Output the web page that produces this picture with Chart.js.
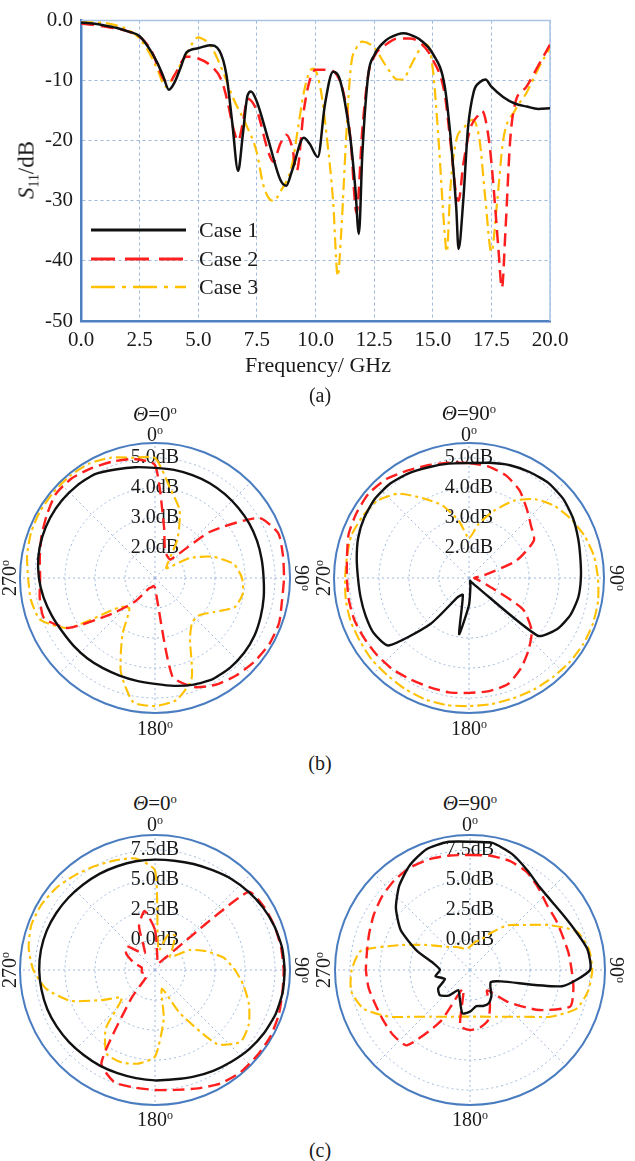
<!DOCTYPE html>
<html><head><meta charset="utf-8">
<script src="https://cdn.jsdelivr.net/npm/chart.js@4.4.1/dist/chart.umd.min.js"></script>
<style>
html,body{margin:0;padding:0;background:#fff;width:635px;height:1161px;overflow:hidden}
#page{position:relative;width:635px;height:1161px;overflow:hidden;background:#fff}
canvas{position:absolute}
.t{position:absolute;font-family:"Liberation Serif","Times New Roman",serif;color:#1a1a1a;white-space:nowrap;line-height:1;transform:translate(-50%,-50%)}
.deg{font-size:0.6em;position:relative;top:-0.55em}
.rl{transform:translate(-50%,-50%) rotate(-90deg)}
.rr{transform:translate(-50%,-50%) rotate(90deg)}
</style></head>
<body><div id="page">
<canvas id="s11" width="635" height="385" style="left:0;top:0"></canvas>
<canvas id="p1" width="290" height="290" style="left:10px;top:433px"></canvas>
<canvas id="p2" width="290" height="290" style="left:324px;top:433px"></canvas>
<canvas id="p3" width="290" height="290" style="left:10px;top:825px"></canvas>
<canvas id="p4" width="290" height="290" style="left:325px;top:825px"></canvas>

<div class="t rl" style="left:26px;top:170px;font-size:23px"><i>S</i><span style="font-size:0.6em;position:relative;top:0.35em">11</span>/dB</div>
<div class="t" style="left:318px;top:365px;font-size:22px">Frequency/ GHz</div>
<div class="t" style="left:320px;top:395px;font-size:20px">(a)</div>
<div class="t" style="left:320px;top:763px;font-size:20px">(b)</div>
<div class="t" style="left:320px;top:1150px;font-size:20px">(c)</div>

<div class="t" style="left:155px;top:414px;font-size:21px"><i>&Theta;</i>=0<span class="deg">o</span></div>
<div class="t" style="left:155px;top:434px;font-size:20px">0<span class="deg">o</span></div>
<div class="t" style="left:155px;top:728px;font-size:20px">180<span class="deg">o</span></div>
<div class="t rl" style="left:9px;top:578px;font-size:20px">270<span class="deg">o</span></div>
<div class="t rr" style="left:302px;top:578px;font-size:20px">90<span class="deg">o</span></div>

<div class="t" style="left:469px;top:413px;font-size:21px"><i>&Theta;</i>=90<span class="deg">o</span></div>
<div class="t" style="left:469px;top:434px;font-size:20px">0<span class="deg">o</span></div>
<div class="t" style="left:469px;top:728px;font-size:20px">180<span class="deg">o</span></div>
<div class="t rl" style="left:323px;top:578px;font-size:20px">270<span class="deg">o</span></div>
<div class="t rr" style="left:617px;top:578px;font-size:20px">90<span class="deg">o</span></div>

<div class="t" style="left:155px;top:803px;font-size:21px"><i>&Theta;</i>=0<span class="deg">o</span></div>
<div class="t" style="left:155px;top:824px;font-size:20px">0<span class="deg">o</span></div>
<div class="t" style="left:155px;top:1119px;font-size:20px">180<span class="deg">o</span></div>
<div class="t rl" style="left:9px;top:970px;font-size:20px">270<span class="deg">o</span></div>
<div class="t rr" style="left:302px;top:970px;font-size:20px">90<span class="deg">o</span></div>

<div class="t" style="left:470px;top:803px;font-size:21px"><i>&Theta;</i>=90<span class="deg">o</span></div>
<div class="t" style="left:470px;top:824px;font-size:20px">0<span class="deg">o</span></div>
<div class="t" style="left:470px;top:1119px;font-size:20px">180<span class="deg">o</span></div>
<div class="t rl" style="left:323px;top:970px;font-size:20px">270<span class="deg">o</span></div>
<div class="t rr" style="left:617px;top:970px;font-size:20px">90<span class="deg">o</span></div>
</div>
<script>
// ---------- (a) S11 data ----------
const X_TICKS = [0, 2.5, 5, 7.5, 10, 12.5, 15, 17.5, 20];
const Y_TICKS = [-50, -40, -30, -20, -10, 0];
const LEGEND = ['Case 1', 'Case 2', 'Case 3'];

const F1 = [0,0.5,1,1.5,2,2.5,3,3.25,3.5,3.75,4,4.25,4.5,5,5.5,5.9,6.2,6.45,6.7,6.9,7.1,7.25,7.5,8,8.5,8.75,9,9.5,9.75,10.1,10.4,10.75,11,11.25,11.5,11.7,11.85,12,12.25,12.5,13,13.5,13.75,14,14.5,15,15.5,15.75,16,16.1,16.3,16.5,16.75,17,17.25,17.5,18,18.5,19,19.5,20];
const D1 = [-0.3,-0.5,-0.8,-1.2,-1.8,-2.6,-5.2,-7,-9.2,-11.5,-10.2,-7.8,-5.3,-4.6,-4.1,-5,-9,-17,-25,-19,-12.5,-11.8,-13.5,-20,-26.5,-27.5,-25,-19.5,-20.5,-22.7,-14,-8.5,-9.4,-13.5,-20,-28,-35.5,-22,-9,-5.8,-3.3,-2.3,-2.1,-2.3,-3.3,-5.5,-10.7,-19,-31,-38,-30,-18,-11.8,-10.3,-9.8,-11,-12.7,-13.8,-14.3,-14.7,-14.6];

const F2 = [0,0.5,1,1.5,2,2.5,3,3.5,3.75,4,4.5,5,5.5,6,6.25,6.5,6.7,6.9,7.1,7.5,8,8.2,8.5,8.75,9,9.2,9.5,9.75,10,10.5,10.9,11.25,11.5,11.75,12,12.25,12.5,13,13.5,14,14.5,15,15.5,15.75,16,16.1,16.3,16.6,17,17.1,17.4,17.6,17.8,17.95,18.1,18.3,18.5,19,19.5,20];
const D2 = [-0.5,-0.7,-1.0,-1.3,-1.8,-2.7,-5,-9.6,-10.4,-9,-6,-6.3,-7.4,-10,-13.5,-18,-20,-17,-13,-15,-22,-23.5,-20.5,-19,-21,-25,-15,-10,-8.2,-8.2,-9,-13,-20,-32,-18,-9,-6,-4,-3,-3,-3.8,-6.5,-12,-20,-29,-30,-24,-18,-15.5,-15,-20,-28,-38,-44.5,-35,-20,-14,-11,-7.5,-4];

const F3 = [0,0.5,1,1.5,2,2.5,3,3.3,3.6,4,4.5,5,5.1,5.5,6,6.5,7,7.5,7.75,8,8.2,8.5,9,9.25,9.5,9.75,9.9,10.2,10.5,10.75,10.95,11.1,11.3,11.5,11.75,12,12.5,13,13.5,13.75,14,14.5,14.75,15,15.25,15.5,15.6,15.75,16,16.3,16.7,17,17.25,17.5,17.75,18,18.5,19,19.5,20];
const D3 = [-0.3,-0.3,-0.4,-0.8,-1.5,-3,-6,-8.5,-11,-9,-5.5,-2.8,-2.9,-4,-8,-13,-17,-22,-27,-29.5,-30,-28.5,-24,-18,-12,-8.5,-8,-11,-20,-30,-42.5,-35,-20,-8,-4.5,-3.5,-4.5,-7.5,-9.8,-9.8,-8,-4.5,-4,-8,-20,-35,-38.5,-28,-20,-18,-16.5,-20,-30,-38.5,-30,-20,-15,-12,-8,-4.5];

// ---------- polar data (angle in degrees, gain in dB) ----------
const ANGLES = [0,10,20,30,40,50,60,70,80,90,100,110,120,130,140,150,160,170,180,190,200,210,220,230,240,250,260,270,280,290,300,310,320,330,340,350];
const B_TICKS = [1, 2, 3, 4, 5, 5.5];
const B_LABELLED = [2, 3, 4, 5];
const C_TICKS = [-2.5, 0, 2.5, 5, 7.5, 8.75];
const C_LABELLED = [0, 2.5, 5, 7.5];

const B0_CASE1 = [4.67,4.66,4.65,4.65,4.64,4.63,4.63,4.62,4.61,4.62,4.68,4.75,4.83,4.88,4.9,4.88,4.78,4.65,4.53,4.48,4.46,4.47,4.5,4.53,4.57,4.66,4.77,4.87,4.95,5.0,5.03,5.04,5.03,5.0,4.85,4.75];
const B0_CASE2 = [4.77,2.73,1.97,1.83,1.8,3.4,5.0,5.37,5.33,5.3,5.3,5.4,5.4,5.33,5.23,5.1,4.87,4.33,1.33,1.27,1.33,1.4,2.0,2.83,4.33,4.93,4.9,4.83,4.9,5.03,5.17,5.33,5.33,5.23,5.13,5.03];
const B0_CASE3 = [5.0,4.0,3.4,2.5,1.67,1.5,2.33,3.07,3.67,3.9,3.97,3.83,3.27,2.93,2.93,3.33,4.57,5.13,5.27,5.2,4.33,3.17,2.33,2.5,4.33,5.07,5.2,5.23,5.33,5.4,5.43,5.43,5.43,5.4,5.27,5.07];

const B90_CASE1 = [4.83,4.9,5.0,5.07,5.13,5.1,5.0,4.87,4.77,4.73,4.7,4.6,4.4,4.0,1.33,1.17,1.1,1.27,1.9,2.9,1.6,1.73,3.0,4.5,4.67,4.67,4.67,4.7,4.8,4.93,5.03,5.1,5.1,5.03,4.93,4.87];
const B90_CASE2 = [4.83,4.77,4.63,4.37,4.0,3.7,3.5,2.67,1.5,1.17,1.27,1.6,3.07,3.73,4.1,4.47,4.77,4.83,4.83,4.87,4.87,4.9,4.97,5.0,5.03,5.07,5.07,5.07,5.13,5.27,5.33,5.37,5.3,5.13,5.0,4.9];
const B90_CASE3 = [2.33,2.83,3.37,3.97,4.43,4.73,4.93,5.1,5.23,5.3,5.37,5.4,5.4,5.37,5.33,5.3,5.27,5.27,5.27,5.3,5.3,5.27,5.23,5.23,5.2,5.2,5.17,5.13,5.13,5.17,5.1,5.0,4.67,4.07,3.57,2.93];

const C0_CASE1 = [6.7,6.75,6.9,7.1,7.4,7.65,7.9,8.1,8.25,8.3,8.3,8.2,8.0,7.75,7.45,7.2,6.95,6.75,6.7,6.65,6.65,6.7,6.75,6.85,6.95,7.05,7.1,7.15,7.15,7.1,7.0,6.9,6.8,6.75,6.7,6.7];
const C0_CASE2 = [0.83,-1.39,-1.94,-1.81,-1.2,7.64,8.0,8.11,8.17,8.22,8.28,8.47,8.6,8.6,8.6,8.42,8.0,7.64,7.5,7.44,7.44,6.44,0.56,-1.53,-1.67,-1.67,-1.39,-1.39,-1.39,-0.56,0.28,0.56,-0.56,-0.83,1.39,2.5];
const C0_CASE3 = [5.8,-0.83,0.56,0.83,-0.28,-0.83,0.83,2.06,3.33,4.17,5.0,5.83,6.53,6.81,5.56,1.67,-0.83,1.67,4.72,5.42,5.69,5.56,3.89,1.11,2.5,5.0,6.67,7.64,8.19,8.47,8.42,8.19,7.83,7.5,7.22,6.94];

const C90_CASE1 = [8.19,8.25,7.78,7.08,6.53,6.39,6.53,6.89,7.44,7.5,5.28,0.28,-0.5,-0.28,0.28,0.67,0.69,0.56,0.97,1.17,0.0,-0.56,0.28,0.78,0.56,-0.28,0.42,0.0,0.56,2.22,4.17,5.56,6.67,7.56,8.19,8.33];
const C90_CASE2 = [7.08,7.17,7.17,6.94,6.39,5.89,5.78,5.72,5.83,5.97,6.25,6.39,4.17,1.67,-0.28,0.83,1.94,2.36,2.5,2.22,-0.83,2.5,5.69,5.89,5.86,5.89,6.08,6.17,6.22,6.44,6.75,7.06,7.28,7.39,7.33,7.19];
const C90_CASE3 = [-0.56,-0.14,0.19,1.11,2.36,3.33,5.0,6.94,7.56,7.69,7.5,6.94,5.28,3.56,2.58,2.0,1.64,1.44,1.39,1.44,1.64,2.0,2.58,3.56,5.28,6.94,7.56,7.36,6.72,3.58,1.67,0.56,0.0,-0.28,-0.56,-0.69];

// ---------- styles ----------
const SERIF = '"Liberation Serif", "Times New Roman", serif';
const BLACK = '#111111', RED = '#ff1f1f', GOLD = '#ffc000';
const AXIS_BLUE = '#4f80c2', FRAME_BLUE = '#a9c3e6', GRID = '#9fb8db';
const STYLES = [
  {color: BLACK, width: 2.5, dash: [], legendDash: []},
  {color: RED, width: 2.5, dash: [13, 7], legendDash: [24, 10]},
  {color: GOLD, width: 2.2, dash: [12, 5, 3, 5], legendDash: [24, 7, 4, 7]}
];

Chart.defaults.font.family = SERIF;

function lineSet(i, xs, ys) {
  const s = STYLES[i];
  return {
    label: LEGEND[i],
    data: xs.map((x, k) => ({x: x, y: ys[k]})),
    borderColor: s.color, borderWidth: s.width, borderDash: s.dash,
    legendDash: s.legendDash,
    pointRadius: 0, fill: false, cubicInterpolationMode: 'monotone'
  };
}

const framePlugin = {
  id: 'frame',
  beforeDatasetsDraw(chart) {
    const a = chart.chartArea, ctx = chart.ctx;
    ctx.save();
    ctx.strokeStyle = FRAME_BLUE; ctx.lineWidth = 1.5; ctx.setLineDash([]);
    ctx.beginPath();
    ctx.moveTo(a.left, a.top); ctx.lineTo(a.right, a.top); ctx.lineTo(a.right, a.bottom);
    ctx.stroke();
    ctx.restore();
  },
  afterDatasetsDraw(chart) {
    const ctx = chart.ctx;
    const rows = [230, 259, 287];
    ctx.save();
    chart.data.datasets.forEach((ds, i) => {
      ctx.strokeStyle = ds.borderColor; ctx.lineWidth = ds.borderWidth + 0.5;
      ctx.setLineDash(ds.legendDash);
      ctx.beginPath(); ctx.moveTo(91, rows[i]); ctx.lineTo(186, rows[i]); ctx.stroke();
      ctx.setLineDash([]);
      ctx.fillStyle = '#1a1a1a'; ctx.font = '22px ' + SERIF;
      ctx.textAlign = 'left'; ctx.textBaseline = 'middle';
      ctx.fillText(ds.label, 199, rows[i] + 1);
    });
    ctx.restore();
  }
};

new Chart(document.getElementById('s11'), {
  type: 'line',
  data: {datasets: [lineSet(0, F1, D1), lineSet(1, F2, D2), lineSet(2, F3, D3)]},
  options: {
    responsive: false, animation: false, events: [],
    layout: {padding: {left: 0, right: 85, top: 18, bottom: 0}},
    plugins: {legend: {display: false}, tooltip: {enabled: false}},
    scales: {
      x: {
        type: 'linear', min: 0, max: 20,
        afterBuildTicks: s => { s.ticks = X_TICKS.map(v => ({value: v})); },
        afterFit: s => { s.height = 64; },
        ticks: {callback: v => Number(v).toFixed(1), font: {family: SERIF, size: 21}, color: '#1a1a1a', padding: 7, maxRotation: 0, autoSkip: false},
        grid: {color: GRID, lineWidth: 1, drawTicks: false},
        border: {color: AXIS_BLUE, width: 2.5, dash: [3, 3]}
      },
      y: {
        type: 'linear', min: -50, max: 0,
        afterBuildTicks: s => { s.ticks = Y_TICKS.map(v => ({value: v})); },
        afterFit: s => { s.width = 81; },
        ticks: {callback: v => (v === 0 ? '0.0' : String(v)), font: {family: SERIF, size: 21}, color: '#1a1a1a', padding: 8},
        grid: {color: GRID, lineWidth: 1, drawTicks: false},
        border: {color: AXIS_BLUE, width: 2.5, dash: [3, 3]}
      }
    }
  },
  plugins: [framePlugin]
});

// ---------- polar plots ----------
const spokes = {
  id: 'spokes',
  beforeDraw(chart) {
    const s = chart.scales.r, ctx = chart.ctx, n = chart.data.labels.length;
    ctx.save();
    ctx.strokeStyle = GRID; ctx.lineWidth = 1; ctx.setLineDash([2, 3]);
    for (let k = 0; k < 8; k++) {
      const p = s.getPointPosition(k * n / 8, s.drawingArea);
      ctx.beginPath(); ctx.moveTo(s.xCenter, s.yCenter); ctx.lineTo(p.x, p.y); ctx.stroke();
    }
    ctx.restore();
  }
};

function polar(id, ticks, labelled, sets) {
  const min = ticks[0], max = ticks[ticks.length - 1];
  const isMax = c => c && c.tick && Math.abs(c.tick.value - max) < 1e-9;
  new Chart(document.getElementById(id), {
    type: 'radar',
    data: {
      labels: ANGLES,
      datasets: sets.map((vals, i) => ({
        label: LEGEND[i], data: vals,
        borderColor: STYLES[i].color, borderWidth: i === 2 ? 2.1 : 2.4,
        borderDash: i === 0 ? [] : (i === 1 ? [12, 6] : [11, 4, 3, 4]),
        pointRadius: 0, fill: false, tension: 0.2
      }))
    },
    options: {
      responsive: false, animation: false, events: [],
      layout: {padding: 0},
      plugins: {legend: {display: false}, tooltip: {enabled: false}},
      scales: {
        r: {
          min: min, max: max, startAngle: 0,
          afterBuildTicks: s => { s.ticks = ticks.map(v => ({value: v})); },
          ticks: {
            display: true, showLabelBackdrop: false, backdropPadding: 0,
            font: {family: SERIF, size: 20}, color: '#1a1a1a',
            callback: v => (labelled.indexOf(v) >= 0 ? Number(v).toFixed(1) + 'dB' : '')
          },
          grid: {
            circular: true,
            color: c => (isMax(c) ? '#4a7cc0' : GRID),
            lineWidth: c => (isMax(c) ? 2 : 1)
          },
          border: {dash: c => (isMax(c) ? [] : [2, 3])},
          angleLines: {display: false},
          pointLabels: {display: false}
        }
      }
    },
    plugins: [spokes]
  });
}

polar('p1', B_TICKS, B_LABELLED, [B0_CASE1, B0_CASE2, B0_CASE3]);
polar('p2', B_TICKS, B_LABELLED, [B90_CASE1, B90_CASE2, B90_CASE3]);
polar('p3', C_TICKS, C_LABELLED, [C0_CASE1, C0_CASE2, C0_CASE3]);
polar('p4', C_TICKS, C_LABELLED, [C90_CASE1, C90_CASE2, C90_CASE3]);
</script>
</body></html>
